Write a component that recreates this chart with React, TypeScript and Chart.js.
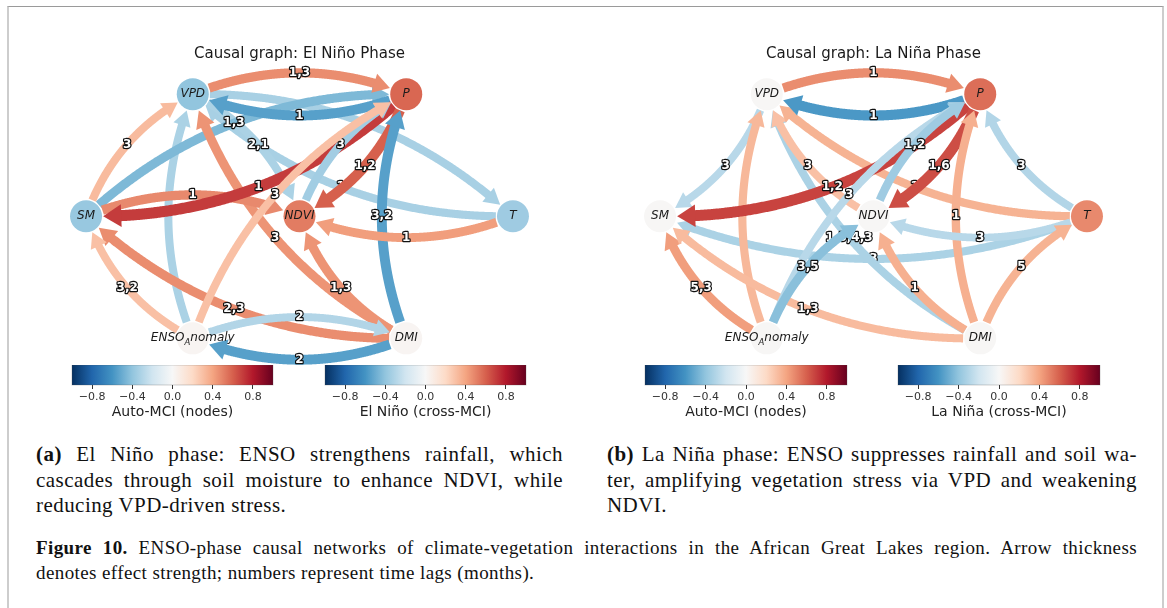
import React, { useEffect, useRef } from 'react';
import { Chart, registerables } from 'chart.js';

Chart.register(...registerables);

// ---------------- data ----------------
const NODE_NAMES = ['VPD', 'P', 'SM', 'NDVI', 'T', 'ENSO_Anomaly', 'DMI'];
const NODE_X = [-0.5, 0.5, -1, 0, 1, -0.5, 0.5];
const NODE_Y = [1, 1, 0, 0, 0, -1, -1];

const NODE_VAL_ELNINO = [-0.4, 0.58, -0.38, 0.52, -0.36, 0.02, 0.02];
const NODE_VAL_LANINA = [0.01, 0.56, 0.01, 0.01, 0.48, 0.01, 0.01];

const EL_FROM = ['ENSO_Anomaly', 'VPD', 'T', 'VPD', 'SM', 'P', 'VPD', 'SM', 'DMI', 'SM', 'P', 'NDVI', 'P', 'DMI', 'T', 'DMI', 'DMI', 'ENSO_Anomaly', 'ENSO_Anomaly', 'DMI', 'ENSO_Anomaly'];
const EL_TO = ['VPD', 'T', 'VPD', 'NDVI', 'P', 'VPD', 'P', 'VPD', 'VPD', 'NDVI', 'SM', 'P', 'NDVI', 'P', 'NDVI', 'NDVI', 'SM', 'SM', 'DMI', 'ENSO_Anomaly', 'P'];
const EL_VAL = [-0.32, -0.33, -0.33, -0.32, -0.45, -0.55, 0.47, 0.32, 0.45, 0.48, 0.7, -0.35, 0.6, -0.55, 0.42, 0.45, 0.47, 0.3, -0.3, -0.55, 0.3];
const EL_LAG = ['', '1', '1', '2,1', '1,3', '1', '1,3', '3', '3', '1', '1', '3', '1,2', '3,2', '1', '1,3', '2,3', '3,2', '2', '2', '3'];

const LA_FROM = ['T', 'DMI', 'VPD', 'ENSO_Anomaly', 'NDVI', 'T', 'VPD', 'P', 'ENSO_Anomaly', 'DMI', 'P', 'ENSO_Anomaly', 'ENSO_Anomaly', 'NDVI', 'P', 'DMI', 'DMI', 'T', 'DMI', 'T'];
const LA_TO = ['SM', 'VPD', 'SM', 'VPD', 'VPD', 'VPD', 'P', 'VPD', 'SM', 'SM', 'SM', 'P', 'NDVI', 'P', 'NDVI', 'P', 'NDVI', 'NDVI', 'T', 'P'];
const LA_VAL = [-0.32, -0.32, -0.28, 0.33, 0.3, 0.35, 0.47, -0.58, 0.42, 0.32, 0.68, -0.28, -0.42, -0.36, 0.65, 0.36, 0.36, -0.28, 0.35, -0.3];
const LA_LAG = ['3', '1,5,4,3', '3', '', '3', '1', '1', '1', '5,3', '1,3', '1,2', '3', '3,5', '1,2', '1,6', '1', '1', '3', '5', '3'];

const CB_TICKS = [-0.8, -0.4, 0, 0.4, 0.8];

const TITLE_A = 'Causal graph: El Niño Phase';
const TITLE_B = 'Causal graph: La Niña Phase';

const CAPTION_A = [
  'El Niño phase: ENSO strengthens rainfall, which',
  'cascades through soil moisture to enhance NDVI, while',
  'reducing VPD-driven stress.',
];
const CAPTION_B = [
  'La Niña phase: ENSO suppresses rainfall and soil wa-',
  'ter, amplifying vegetation stress via VPD and weakening',
  'NDVI.',
];
const FIG_CAPTION = [
  'ENSO-phase causal networks of climate-vegetation interactions in the African Great Lakes region. Arrow thickness',
  'denotes effect strength; numbers represent time lags (months).',
];

// RdBu_r colormap stops (-1 .. 1)
const RDBU_R = ['#053061', '#2166ac', '#4393c3', '#92c5de', '#d1e5f0', '#f7f7f7', '#fddbc7', '#f4a582', '#d6604d', '#b2182b', '#67001f'];

function hexRgb(h: string) {
  return [parseInt(h.slice(1, 3), 16), parseInt(h.slice(3, 5), 16), parseInt(h.slice(5, 7), 16)];
}
function cmap(v: number) {
  const t = Math.max(0, Math.min(1, (v + 1) / 2)) * 10;
  const i = Math.min(9, Math.floor(t));
  const f = t - i;
  const a = hexRgb(RDBU_R[i]);
  const b = hexRgb(RDBU_R[i + 1]);
  const c = a.map((x, k) => Math.round(x + (b[k] - x) * f));
  return `rgb(${c[0]},${c[1]},${c[2]})`;
}

const SANS = '"DejaVu Sans", sans-serif';
const NODE_R = 16;
const RAD = 0.2;

function makeGraphPlugin(from: string[], to: string[], vals: number[], lags: string[], title: string) {
  return {
    id: 'causalGraph',
    beforeDatasetsDraw(chart: any) {
      const xs = chart.scales.x;
      const ys = chart.scales.y;
      const ctx = chart.ctx;
      const pos = (n: string) => {
        const i = NODE_NAMES.indexOf(n);
        return [xs.getPixelForValue(NODE_X[i]), ys.getPixelForValue(NODE_Y[i])];
      };
      ctx.save();
      for (let e = 0; e < from.length; e++) {
        const p0 = pos(from[e]);
        const p1 = pos(to[e]);
        const v = vals[e];
        const dx = p1[0] - p0[0];
        const dy = p1[1] - p0[1];
        const mx = (p0[0] + p1[0]) / 2;
        const my = (p0[1] + p1[1]) / 2;
        const cx = mx + RAD * dy;
        const cy = my - RAD * dx;
        const N = 300;
        const pts: number[][] = [];
        for (let i = 0; i <= N; i++) {
          const t = i / N;
          const a = (1 - t) * (1 - t);
          const b = 2 * t * (1 - t);
          const c = t * t;
          pts.push([a * p0[0] + b * cx + c * p1[0], a * p0[1] + b * cy + c * p1[1]]);
        }
        const d = (p: number[], q: number[]) => Math.hypot(p[0] - q[0], p[1] - q[1]);
        let s = 0;
        while (s < N && d(pts[s], p0) < NODE_R + 1) s++;
        let en = N;
        while (en > 0 && d(pts[en], p1) < NODE_R + 1) en--;
        const w = 5.5 + 8 * Math.abs(v);
        const headLen = w + 7;
        const hw = w * 0.8 + 2.5;
        const tip = pts[en];
        let k = en;
        while (k > s && d(pts[k], tip) < headLen) k--;
        const col = cmap(v);
        ctx.strokeStyle = col;
        ctx.fillStyle = col;
        ctx.lineWidth = w;
        ctx.lineCap = 'butt';
        ctx.lineJoin = 'round';
        ctx.beginPath();
        ctx.moveTo(pts[s][0], pts[s][1]);
        const endIdx = Math.min(en, k + 2);
        for (let i = s + 1; i <= endIdx; i++) ctx.lineTo(pts[i][0], pts[i][1]);
        ctx.stroke();
        const base = pts[k];
        let ux = tip[0] - base[0];
        let uy = tip[1] - base[1];
        const L = Math.hypot(ux, uy) || 1;
        ux /= L;
        uy /= L;
        const nx = -uy;
        const ny = ux;
        ctx.beginPath();
        ctx.moveTo(tip[0], tip[1]);
        ctx.lineTo(base[0] + nx * hw, base[1] + ny * hw);
        ctx.lineTo(base[0] - nx * hw, base[1] - ny * hw);
        ctx.closePath();
        ctx.fill();
        // lag label at curve midpoint
        if (lags[e]) {
          const lx = 0.25 * p0[0] + 0.5 * cx + 0.25 * p1[0];
          const ly = 0.25 * p0[1] + 0.5 * cy + 0.25 * p1[1];
          ctx.font = `bold 12px ${SANS}`;
          ctx.textAlign = 'center';
          ctx.textBaseline = 'middle';
          ctx.lineWidth = 2.4;
          ctx.strokeStyle = '#111';
          ctx.lineJoin = 'round';
          ctx.strokeText(lags[e], lx, ly);
          ctx.fillStyle = '#fff';
          ctx.fillText(lags[e], lx, ly);
        }
      }
      ctx.restore();
    },
    afterDatasetsDraw(chart: any) {
      const xs = chart.scales.x;
      const ys = chart.scales.y;
      const ctx = chart.ctx;
      ctx.save();
      ctx.fillStyle = '#1a1a1a';
      ctx.textBaseline = 'middle';
      for (let i = 0; i < NODE_NAMES.length; i++) {
        const x = xs.getPixelForValue(NODE_X[i]);
        const y = ys.getPixelForValue(NODE_Y[i]);
        const name = NODE_NAMES[i];
        if (name.includes('_')) {
          const [a, rest] = name.split('_');
          const sub = rest[0];
          const tail = rest.slice(1);
          ctx.font = `italic 12px ${SANS}`;
          const wa = ctx.measureText(a).width;
          const wt = ctx.measureText(tail).width;
          ctx.font = `italic 8.5px ${SANS}`;
          const ws = ctx.measureText(sub).width;
          let x0 = x - (wa + ws + wt) / 2;
          ctx.textAlign = 'left';
          ctx.font = `italic 12px ${SANS}`;
          ctx.fillText(a, x0, y);
          x0 += wa;
          ctx.font = `italic 8.5px ${SANS}`;
          ctx.fillText(sub, x0, y + 4);
          x0 += ws;
          ctx.font = `italic 12px ${SANS}`;
          ctx.fillText(tail, x0, y);
        } else {
          ctx.textAlign = 'center';
          ctx.font = `italic 12px ${SANS}`;
          ctx.fillText(name, x, y);
        }
      }
      ctx.font = `15px ${SANS}`;
      ctx.textAlign = 'center';
      ctx.fillStyle = '#1a1a1a';
      ctx.fillText(title, xs.getPixelForValue(0), ys.getPixelForValue(1.33));
      ctx.restore();
    },
  };
}

function makeColorbarPlugin(label: string) {
  return {
    id: 'colorbarFill',
    beforeDatasetsDraw(chart: any) {
      const { ctx, chartArea } = chart;
      const { left, right, top, bottom } = chartArea;
      const g = ctx.createLinearGradient(left, 0, right, 0);
      RDBU_R.forEach((c, i) => g.addColorStop(i / (RDBU_R.length - 1), c));
      ctx.save();
      ctx.fillStyle = g;
      ctx.fillRect(left, top, right - left, bottom - top);
      ctx.strokeStyle = 'rgba(80,80,80,0.35)';
      ctx.lineWidth = 0.8;
      ctx.strokeRect(left, top, right - left, bottom - top);
      ctx.restore();
    },
    afterDraw(chart: any) {
      const { ctx, chartArea } = chart;
      ctx.save();
      ctx.font = `14px ${SANS}`;
      ctx.fillStyle = '#222';
      ctx.textAlign = 'center';
      ctx.textBaseline = 'middle';
      ctx.fillText(label, (chartArea.left + chartArea.right) / 2, chartArea.bottom + 27);
      ctx.restore();
    },
  };
}

function fmtTick(v: any) {
  const n = Number(v);
  if (Math.abs(n) < 1e-9) return '0.0';
  return (n < 0 ? '\u2212' : '') + Math.abs(n).toFixed(1);
}

function GraphChart(props: any) {
  const { left, top, width, height, nodeVals, from, to, vals, lags, title } = props;
  const ref = useRef<HTMLCanvasElement>(null);
  useEffect(() => {
    const plugin = makeGraphPlugin(from, to, vals, lags, title);
    const chart = new Chart(ref.current as HTMLCanvasElement, {
      type: 'scatter',
      data: {
        datasets: [
          {
            data: NODE_X.map((x, i) => ({ x, y: NODE_Y[i] })),
            pointRadius: NODE_R,
            pointHoverRadius: NODE_R,
            pointBackgroundColor: nodeVals.map(cmap),
            pointBorderWidth: 0,
            borderWidth: 0,
            clip: false,
          } as any,
        ],
      },
      options: {
        responsive: false,
        animation: false,
        events: [],
        layout: { padding: 0, autoPadding: false },
        scales: {
          x: { type: 'linear', min: -1.3, max: 1.3, display: false },
          y: { type: 'linear', min: -1.3, max: 1.55, display: false },
        },
        plugins: { legend: { display: false }, tooltip: { enabled: false } },
      } as any,
      plugins: [plugin as any],
    });
    return () => chart.destroy();
  }, []);
  return <canvas ref={ref} width={width} height={height} style={{ position: 'absolute', left, top, width, height }} />;
}

function ColorbarChart(props: any) {
  const { left, top, width, height, label } = props;
  const ref = useRef<HTMLCanvasElement>(null);
  useEffect(() => {
    const chart = new Chart(ref.current as HTMLCanvasElement, {
      type: 'scatter',
      data: { datasets: [{ data: [] }] },
      options: {
        responsive: false,
        animation: false,
        events: [],
        layout: { padding: { left: 20, right: 20, top: 0, bottom: 16 }, autoPadding: false },
        scales: {
          x: {
            type: 'linear',
            min: -1,
            max: 1,
            position: 'bottom',
            afterBuildTicks: (ax: any) => {
              ax.ticks = CB_TICKS.map((v) => ({ value: v }));
            },
            ticks: {
              callback: fmtTick,
              color: '#333',
              font: { family: SANS, size: 11 },
              padding: 2,
              maxRotation: 0,
              autoSkip: false,
            },
            grid: { display: true, drawOnChartArea: false, drawTicks: true, tickLength: 4, tickColor: '#333', tickWidth: 1 },
            border: { display: false },
            title: { display: false },
          },
          y: { display: false, min: 0, max: 1 },
        },
        plugins: { legend: { display: false }, tooltip: { enabled: false } },
      } as any,
      plugins: [makeColorbarPlugin(label) as any],
    });
    return () => chart.destroy();
  }, []);
  return <canvas ref={ref} width={width} height={height} style={{ position: 'absolute', left, top, width, height }} />;
}

const SERIF = '"Liberation Serif", "Times New Roman", serif';

function JustLines(props: any) {
  const { left, top, width, lines, prefix, size, lh, prefixStyle, spacing } = props;
  return (
    <div style={{ position: 'absolute', left, top, width, fontFamily: SERIF, fontSize: size, lineHeight: `${lh}px`, color: '#111', letterSpacing: spacing }}>
      {lines.map((ln: string, i: number) => (
        <div key={i} style={{ textAlign: 'justify', textAlignLast: i === lines.length - 1 ? 'left' : 'justify', whiteSpace: 'nowrap' } as any}>
          {i === 0 && prefix ? <span style={prefixStyle}>{prefix} </span> : null}
          {ln}
        </div>
      ))}
    </div>
  );
}

export default function App() {
  return (
    <div style={{ position: 'absolute', left: 0, top: 0, width: 1167, height: 608, background: '#fff', overflow: 'hidden' }}>
      <div style={{ position: 'absolute', left: 7, top: 6, width: 1153, height: 640, borderTop: '1px solid #9a9a9a', borderLeft: '2px solid #cdcdcd', borderRight: '2px solid #cdcdcd' }} />
      <GraphChart left={22} top={27} width={555} height={348} nodeVals={NODE_VAL_ELNINO} from={EL_FROM} to={EL_TO} vals={EL_VAL} lags={EL_LAG} title={TITLE_A} />
      <GraphChart left={596} top={27} width={555} height={348} nodeVals={NODE_VAL_LANINA} from={LA_FROM} to={LA_TO} vals={LA_VAL} lags={LA_LAG} title={TITLE_B} />
      <ColorbarChart left={52} top={365} width={241} height={56} label="Auto-MCI (nodes)" />
      <ColorbarChart left={305} top={365} width={241} height={56} label="El Niño (cross-MCI)" />
      <ColorbarChart left={625} top={365} width={242} height={56} label="Auto-MCI (nodes)" />
      <ColorbarChart left={878} top={365} width={242} height={56} label="La Niña (cross-MCI)" />
      <JustLines left={36} top={442} width={527} lines={CAPTION_A} prefix="(a)" prefixStyle={{ fontWeight: 'bold' }} size={21} lh={25.5} spacing="0.45px" />
      <JustLines left={607} top={442} width={530} lines={CAPTION_B} prefix="(b)" prefixStyle={{ fontWeight: 'bold' }} size={21} lh={25.5} spacing="0.45px" />
      <JustLines left={36} top={535} width={1101} lines={FIG_CAPTION} prefix="Figure 10." prefixStyle={{ fontWeight: 'bold' }} size={19} lh={25} spacing="0.4px" />
    </div>
  );
}
